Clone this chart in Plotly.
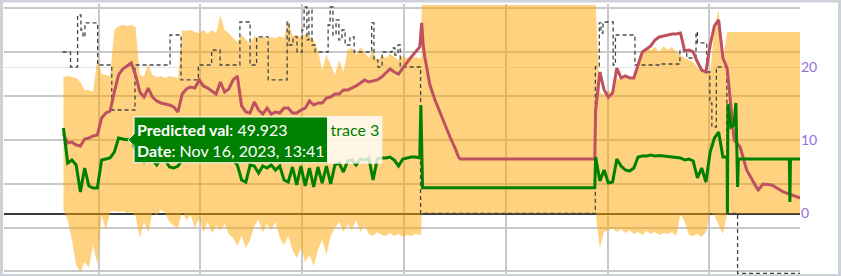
import plotly.graph_objects as go

# ---------------- time grids ----------------
times_a = [
    "2023-11-16 09:56", "2023-11-16 10:11", "2023-11-16 10:26", "2023-11-16 10:41",
    "2023-11-16 10:56", "2023-11-16 11:11", "2023-11-16 11:26", "2023-11-16 11:41",
    "2023-11-16 11:56", "2023-11-16 12:11", "2023-11-16 12:26", "2023-11-16 12:41",
    "2023-11-16 12:56", "2023-11-16 13:11", "2023-11-16 13:26", "2023-11-16 13:41",
    "2023-11-16 13:56", "2023-11-16 14:11", "2023-11-16 14:26", "2023-11-16 14:41",
    "2023-11-16 14:56", "2023-11-16 15:11", "2023-11-16 15:26", "2023-11-16 15:41",
    "2023-11-16 15:56", "2023-11-16 16:11", "2023-11-16 16:26", "2023-11-16 16:41",
    "2023-11-16 16:56", "2023-11-16 17:11", "2023-11-16 17:26", "2023-11-16 17:41",
    "2023-11-16 17:56", "2023-11-16 18:11", "2023-11-16 18:26", "2023-11-16 18:41",
    "2023-11-16 18:56", "2023-11-16 19:11", "2023-11-16 19:26", "2023-11-16 19:41",
    "2023-11-16 19:56", "2023-11-16 20:11", "2023-11-16 20:26", "2023-11-16 20:41",
    "2023-11-16 20:56", "2023-11-16 21:11", "2023-11-16 21:26", "2023-11-16 21:41",
    "2023-11-16 21:56", "2023-11-16 22:11", "2023-11-16 22:26", "2023-11-16 22:41",
    "2023-11-16 22:56", "2023-11-16 23:11", "2023-11-16 23:26", "2023-11-16 23:41",
    "2023-11-16 23:56", "2023-11-17 00:11", "2023-11-17 00:26", "2023-11-17 00:41",
    "2023-11-17 00:56", "2023-11-17 01:11", "2023-11-17 01:26", "2023-11-17 01:41",
    "2023-11-17 01:56", "2023-11-17 02:11", "2023-11-17 02:26", "2023-11-17 02:41",
    "2023-11-17 02:56", "2023-11-17 03:11", "2023-11-17 03:26", "2023-11-17 03:41",
    "2023-11-17 03:56", "2023-11-17 04:11", "2023-11-17 04:26", "2023-11-17 04:41",
    "2023-11-17 04:56", "2023-11-17 05:11", "2023-11-17 05:26", "2023-11-17 05:41",
    "2023-11-17 05:56", "2023-11-17 06:11", "2023-11-17 06:26", "2023-11-17 06:41",
    "2023-11-17 06:56",
]
times_c = [
    "2023-11-17 17:18", "2023-11-17 17:33", "2023-11-17 17:48", "2023-11-17 18:03",
    "2023-11-17 18:18", "2023-11-17 18:33", "2023-11-17 18:48", "2023-11-17 19:03",
    "2023-11-17 19:18", "2023-11-17 19:33", "2023-11-17 19:48", "2023-11-17 20:03",
    "2023-11-17 20:18", "2023-11-17 20:33", "2023-11-17 20:48", "2023-11-17 21:03",
    "2023-11-17 21:18", "2023-11-17 21:33", "2023-11-17 21:48", "2023-11-17 22:03",
    "2023-11-17 22:18", "2023-11-17 22:33", "2023-11-17 22:48", "2023-11-17 23:03",
    "2023-11-17 23:18", "2023-11-17 23:33", "2023-11-17 23:48", "2023-11-18 00:03",
    "2023-11-18 00:18", "2023-11-18 00:33", "2023-11-18 00:48", "2023-11-18 01:03",
]

# ---------------- orange band (upper / lower) ----------------
band_hi_a = [
    18.63, 18.77, 18.63, 18.50, 17.95, 16.86, 16.86, 16.59, 21.23, 19.04, 18.91, 18.77,
    25.05, 25.60, 25.73, 25.60, 25.73, 25.46, 18.91, 18.77, 20.41, 18.91, 18.63, 18.77,
    18.50, 18.77, 18.63, 18.50, 25.05, 24.91, 25.05, 24.78, 24.64, 25.05, 24.51, 25.05,
    24.64, 27.10, 25.05, 24.64, 23.96, 23.41, 24.37, 23.69, 23.14, 24.23, 23.96, 24.23,
    23.82, 24.10, 23.96, 24.23, 23.96, 26.42, 24.23, 24.37, 24.10, 24.51, 24.23, 23.69,
    22.32, 19.59, 21.64, 20.27, 18.91, 20.96, 19.32, 22.32, 22.59, 21.64, 22.73, 22.05,
    21.23, 22.32, 20.68, 21.64, 21.23, 21.77, 21.37, 20.96, 21.50, 21.23, 21.23, 21.37,
    21.23,
]
band_lo_a = [
    0.48, -0.89, -3.62, -7.03, -7.99, -6.62, -7.44, -4.30, -7.03, -0.20, -2.25, 0.20,
    0.34, 0.20, 0.34, 0.07, 0.20, -0.34, -3.34, -1.16, -2.53, 0.20, -0.20, 0.48,
    0.07, -1.16, -1.71, -1.98, 0.20, -0.89, -0.20, -1.98, -0.61, -2.53, -1.16, -2.66,
    -1.71, -2.25, -1.43, -2.80, -3.34, -4.44, -3.07, -4.71, -3.62, -1.71, -0.89, -2.53,
    -1.43, -2.25, -1.16, -3.34, -4.30, -3.07, -4.98, -6.08, -4.71, -6.62, -5.67, -7.17,
    -4.98, -3.62, -5.67, -3.07, -1.98, -1.16, -2.53, -1.43, -2.25, -0.89, -2.53, -1.71,
    -2.80, -3.07, -2.53, -2.94, -3.07, -2.66, -3.07, -2.80, -3.21, -2.94, -3.07, -2.80,
    -2.94,
]
band_mid_t = ["2023-11-17 07:01", "2023-11-17 07:03"]
band_hi_mid = [21.2, 28.45]
band_lo_mid = [-2.9, 0.0]
band_hi_c = [
    28.45, 16.59, 16.18, 16.86, 16.31, 18.50, 18.23, 18.63, 18.23, 18.50, 20.96, 22.05,
    22.59, 22.32, 22.73, 22.05, 22.87, 22.32, 22.73, 22.05, 21.64, 21.23, 20.96, 20.68,
    19.86, 19.59, 19.18, 19.32, 25.05, 27.78, 20.96, 24.78,
]
band_lo_c = [
    0.0, -4.71, -2.53, -2.25, -1.98, -2.53, -2.12, -2.66, -2.25, -2.80, -2.53, -2.94,
    -2.39, -2.80, -2.53, -2.94, -2.66, -2.80, -2.53, -3.07, -0.07, -1.16, -2.94, -3.07,
    -2.80, -3.21, -2.53, 0.07, -0.20, -1.57, -2.80, 0.0,
]
band_end_t = ["2023-11-18 05:21"]
band_hi_end = [24.78]
band_lo_end = [0.0]

# ---------------- dashed step line ----------------
dash_t = [
    "2023-11-16 09:53", "2023-11-16 10:21", "2023-11-16 10:46", "2023-11-16 10:58",
    "2023-11-16 11:05", "2023-11-16 11:12", "2023-11-16 11:57", "2023-11-16 12:47",
    "2023-11-16 14:09", "2023-11-16 16:13", "2023-11-16 16:52", "2023-11-16 17:53",
    "2023-11-16 18:40", "2023-11-16 19:10", "2023-11-16 20:20", "2023-11-16 20:56",
    "2023-11-16 21:19", "2023-11-16 22:00", "2023-11-16 23:07", "2023-11-16 23:14",
    "2023-11-16 23:28", "2023-11-16 23:42", "2023-11-17 00:00", "2023-11-17 00:07",
    "2023-11-17 00:17", "2023-11-17 00:24", "2023-11-17 00:35", "2023-11-17 00:46",
    "2023-11-17 01:32", "2023-11-17 01:39", "2023-11-17 01:49", "2023-11-17 02:00",
    "2023-11-17 02:10", "2023-11-17 02:21", "2023-11-17 02:32", "2023-11-17 02:49",
    "2023-11-17 03:04", "2023-11-17 04:06", "2023-11-17 04:14", "2023-11-17 04:28",
    "2023-11-17 04:43", "2023-11-17 05:18", "2023-11-17 05:28", "2023-11-17 05:39",
    "2023-11-17 05:47", "2023-11-17 06:59", "2023-11-17 17:17", "2023-11-17 17:31",
    "2023-11-17 17:37", "2023-11-17 17:44", "2023-11-17 18:20", "2023-11-17 18:28",
    "2023-11-17 19:37", "2023-11-17 21:06", "2023-11-17 22:16", "2023-11-17 22:40",
    "2023-11-17 23:13", "2023-11-17 23:18", "2023-11-17 23:51", "2023-11-18 00:02",
    "2023-11-18 00:09", "2023-11-18 00:25", "2023-11-18 01:02", "2023-11-18 01:40",
    "2023-11-18 05:21",
]
dash_v = [
    22.05, 20.00, 27.10, 25.05, 24.10, 26.01, 20.27, 14.13, 20.27, 24.37, 18.23, 20.27,
    22.32, 20.27, 26.14, 20.27, 24.10, 18.23, 26.14, 23.00, 24.10, 22.05, 25.05, 28.19,
    23.69, 27.78, 23.00, 22.05, 25.73, 28.19, 24.37, 26.42, 23.69, 25.05, 23.00, 24.10,
    22.05, 26.01, 20.96, 20.00, 22.05, 22.59, 21.64, 23.00, 20.00, 0.0, 20.00, 26.01,
    24.64, 26.14, 20.27, 24.37, 20.27, 20.41, 22.32, 21.23, 24.78, 23.28, 19.32, 15.09,
    11.81, 20.00, 0.0, -8.19, -8.19,
]

# ---------------- green "Predicted val" line ----------------
pred_a = [
    52.61, 44.66, 45.34, 44.20, 38.07, 43.52, 39.43, 38.98, 38.98, 45.34, 45.57, 45.80,
    47.16, 50.34, 50.11, 49.923, 50.11, 47.61, 45.80, 44.89, 46.02, 45.34, 44.20, 45.80,
    45.34, 43.75, 43.52, 43.98, 45.34, 45.57, 46.02, 45.34, 45.80, 45.11, 46.02, 45.57,
    45.34, 45.80, 45.11, 45.80, 45.34, 44.20, 40.80, 40.34, 44.20, 43.98, 42.39, 43.98,
    43.52, 44.20, 43.07, 43.98, 40.80, 40.34, 43.75, 39.66, 43.98, 39.43, 43.52, 39.20,
    43.75, 40.11, 43.98, 39.89, 44.20, 44.66, 42.61, 45.11, 45.34, 44.20, 45.57, 45.34,
    45.80, 40.80, 45.57, 45.80, 45.80, 46.02, 45.34, 43.98, 45.57, 45.80, 46.02, 46.02,
    45.80,
]
pred_mid_t = ["2023-11-17 07:00", "2023-11-17 07:06", "2023-11-17 17:15"]
pred_mid = [57.84, 39.05, 39.05]
pred_c = [
    46.02, 40.57, 43.07, 40.11, 40.34, 45.57, 43.98, 43.07, 42.84, 43.52, 46.02, 46.25,
    46.25, 46.48, 46.25, 46.36, 46.25, 46.25, 46.02, 46.02, 45.80, 45.34, 45.57, 45.11,
    41.25, 43.52, 40.34, 47.16, 50.34, 51.70, 46.02, 46.02,
]
pred_end_t = [
    "2023-11-18 01:04", "2023-11-18 01:06", "2023-11-18 01:17", "2023-11-18 01:27",
    "2023-11-18 01:34", "2023-11-18 01:40", "2023-11-18 01:43", "2023-11-18 04:43",
    "2023-11-18 04:45", "2023-11-18 04:47", "2023-11-18 05:21",
]
pred_end = [33.30, 58.07, 52.84, 53.30, 58.30, 39.20, 45.57, 45.57, 35.80, 45.57, 45.57]

# ---------------- red line ----------------
red_a = [
    10.85, 9.62, 9.76, 9.35, 9.22, 10.17, 10.31, 10.58, 10.72, 13.04, 13.72, 13.99,
    16.59, 18.91, 19.73, 20.14, 20.55, 18.91, 16.59, 15.90, 17.13, 15.90, 15.36, 15.09,
    14.95, 14.81, 14.54, 13.86, 16.31, 17.00, 17.27, 17.13, 18.23, 17.41, 17.13, 16.72,
    16.31, 17.95, 16.59, 17.00, 18.23, 18.77, 14.68, 13.86, 13.72, 15.22, 14.13, 13.58,
    14.40, 13.58, 13.86, 13.72, 14.40, 14.40, 13.72, 13.72, 14.13, 14.40, 15.36, 14.81,
    15.09, 15.09, 15.77, 15.90, 16.31, 16.31, 16.86, 16.86, 17.13, 17.41, 17.82, 18.23,
    17.95, 18.09, 18.23, 18.63, 19.18, 19.73, 19.32, 19.04, 19.86, 20.68, 21.37, 22.05,
    22.73,
]
red_mid_t = [
    "2023-11-17 07:03", "2023-11-17 07:08", "2023-11-17 07:14", "2023-11-17 07:20",
    "2023-11-17 07:32", "2023-11-17 07:50", "2023-11-17 08:08", "2023-11-17 08:26",
    "2023-11-17 08:43", "2023-11-17 09:01", "2023-11-17 09:13", "2023-11-17 09:19",
    "2023-11-17 17:15",
]
red_mid = [26.01, 23.00, 21.37, 20.00, 17.54, 15.49, 13.72, 12.08, 10.44, 8.94, 7.71, 7.44, 7.44]
red_c = [
    14.13, 19.32, 16.86, 15.90, 16.45, 19.86, 18.50, 18.77, 18.50, 18.50, 20.27, 22.05,
    22.46, 22.87, 23.69, 24.10, 24.23, 24.37, 24.51, 24.51, 24.64, 22.18, 22.32, 22.05,
    20.68, 19.59, 19.32, 23.00, 25.60, 26.42, 21.23, 19.86,
]
red_end_t = [
    "2023-11-18 01:13", "2023-11-18 01:28", "2023-11-18 01:49", "2023-11-18 02:12",
    "2023-11-18 02:42", "2023-11-18 02:53", "2023-11-18 03:10", "2023-11-18 03:41",
    "2023-11-18 04:22", "2023-11-18 05:21",
]
red_end = [15.49, 10.03, 9.08, 5.94, 3.89, 3.21, 4.03, 3.89, 2.94, 2.12]

# ---------------- axis settings ----------------
x_range = ["2023-11-16 06:25:49", "2023-11-18 05:20:42"]
right_range = [-8.26, 28.60]
pred_range = [19.43, 80.80]
right_ticks = [0, 10, 20]

band_x = times_a + band_mid_t + times_c + band_end_t
band_hi = band_hi_a + band_hi_mid + band_hi_c + band_hi_end
band_lo = band_lo_a + band_lo_mid + band_lo_c + band_lo_end
pred_x = times_a + pred_mid_t + times_c + pred_end_t
pred_y = pred_a + pred_mid + pred_c + pred_end
red_x = times_a + red_mid_t + times_c + red_end_t
red_y = red_a + red_mid + red_c + red_end

fig = go.Figure()
fig.add_trace(go.Scatter(x=band_x, y=band_lo, mode="lines", line=dict(width=0),
                         yaxis="y", hoverinfo="skip", showlegend=False))
fig.add_trace(go.Scatter(x=band_x, y=band_hi, mode="lines", line=dict(width=0),
                         fill="tonexty", fillcolor="rgba(255,165,0,0.5)",
                         yaxis="y", hoverinfo="skip", showlegend=False))
fig.add_trace(go.Scatter(x=dash_t, y=dash_v, mode="lines", line_shape="hv",
                         line=dict(color="#444444", width=1.3, dash="4px,3px"),
                         yaxis="y2", hoverinfo="skip", showlegend=False))
fig.add_trace(go.Scatter(x=pred_x, y=pred_y, mode="lines",
                         line=dict(color="green", width=3),
                         yaxis="y3", showlegend=False,
                         hovertemplate="<b>Predicted val</b>: %{y:.3f}<br><b>Date</b>: %{x|%b %d, %Y, %H:%M}"))
fig.add_trace(go.Scatter(x=red_x, y=red_y, mode="lines",
                         line=dict(color="rgb(190,80,95)", width=3),
                         yaxis="y2", hoverinfo="skip", showlegend=False))

grid_dark = "#c8c8c8"
fig.update_layout(
    template="none",
    width=841, height=276, autosize=False,
    margin=dict(l=4, r=41, t=4, b=2, pad=0),
    paper_bgcolor="white", plot_bgcolor="white",
    font=dict(family="Lato", size=14, color="#444"),
    showlegend=False,
    hovermode="closest",
    hoverlabel=dict(font=dict(family="Lato", size=16)),
    xaxis=dict(type="date", range=x_range, showticklabels=False, ticks="",
               showgrid=True, gridcolor=grid_dark, gridwidth=2,
               dtick=21600000, tick0="2023-11-16 00:00",
               zeroline=False, showline=False, automargin=False),
    yaxis=dict(range=right_range, showticklabels=False, ticks="", showgrid=False,
               zeroline=True, zerolinecolor="#3a3a3a", zerolinewidth=2,
               showline=False, automargin=False),
    yaxis2=dict(range=right_range, overlaying="y", side="right",
                tickmode="array", tickvals=right_ticks, ticks="",
                tickfont=dict(color="mediumpurple", size=14, family="Lato"),
                showgrid=True, gridcolor="#e4e4e4", gridwidth=1,
                zeroline=False, showline=False, automargin=False),
    yaxis3=dict(range=pred_range, overlaying="y", side="left",
                showticklabels=False, ticks="", dtick=10, tick0=0,
                showgrid=True, gridcolor=grid_dark, gridwidth=2,
                zeroline=False, showline=False, automargin=False),
    shapes=[dict(type="rect", xref="paper", yref="paper",
                 x0=(1.5 - 4) / 796, x1=(839.5 - 4) / 796,
                 y0=-1.5 / 270, y1=1 + 3 / 270,
                 line=dict(color="#cdd1d9", width=3), layer="above")],
)

post = """
var gd = document.getElementById('{plot_id}');
function showTip() {
  try { Plotly.Fx.hover(gd, [{curveNumber: 3, pointNumber: 15}], 'xy'); }
  catch (e) {
    try { Plotly.Fx.hover(gd, [{curveNumber: 3, pointNumber: 15}], ['xy3']); } catch (e2) {}
  }
}
showTip();
setTimeout(showTip, 200);
"""

fig.write_html("out.html", post_script=post)
